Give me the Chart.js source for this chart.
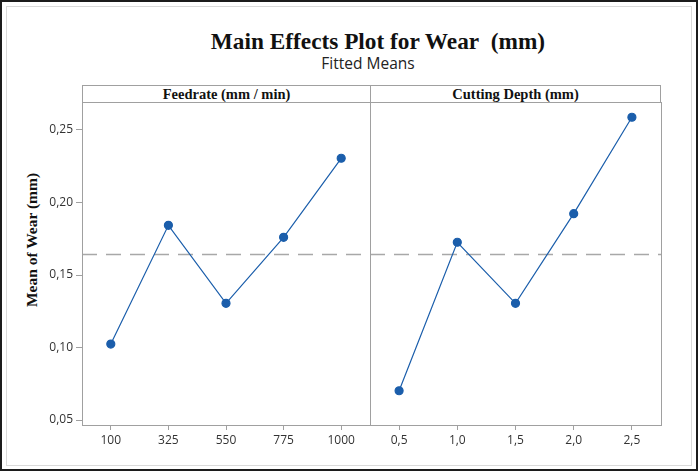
<!DOCTYPE html>
<html>
<head>
<meta charset="utf-8">
<script src="https://cdn.jsdelivr.net/npm/chart.js@4"></script>
<style>
    body { margin: 0; width: 700px; height: 475px; background: #fff; position: relative; overflow: hidden; }
    .abs { position: absolute; box-sizing: border-box; }
    #frame { left: 0; top: 0; width: 698px; height: 471px; border: 2px solid #1c1c1c; }
    #inner { left: 6px; top: 6px; width: 686px; height: 460px; border: 1px solid #dadada; }
    #title { left: 78px; width: 600px; top: 28px; line-height: 24px; text-align: center;
             font: bold 23.3px "Liberation Serif", serif; color: #111; }
    #subtitle { left: 268px; width: 200px; top: 52px; line-height: 18px; text-align: center;
                font: 15.5px "Open Sans", sans-serif; color: #222; }
    .strip { top: 85px; height: 18px; border: 1px solid #a0a0a0; text-align: center;
             font: bold 14.5px "Liberation Serif", serif; line-height: 16px; color: #111; }
    #yTitle { left: 32px; top: 240px; transform: translate(-50%, -50%) rotate(-90deg); white-space: nowrap;
              font: bold 15.5px "Liberation Serif", serif; color: #111; }
    canvas { position: absolute; }
</style>
</head>
<body>
<div id="frame" class="abs"></div>
<div id="inner" class="abs"></div>
<div id="title" class="abs">Main Effects Plot for Wear&nbsp; (mm)</div>
<div id="subtitle" class="abs">Fitted Means</div>
<div class="abs strip" style="left:82px; width:289px;">Feedrate (mm / min)</div>
<div class="abs strip" style="left:370px; width:291px;">Cutting Depth (mm)</div>
<div id="yTitle" class="abs">Mean of Wear (mm)</div>

<div style="position:absolute; left:0; top:100px; width:372px; height:375px;"><canvas id="feedChart"></canvas></div>
<div style="position:absolute; left:368px; top:100px; width:295px; height:375px;"><canvas id="depthChart"></canvas></div>

<script>
// ================= DATA =================
const feedrateLabels = ["100", "325", "550", "775", "1000"];
const feedrateMeans = [0.1024, 0.1843, 0.1305, 0.1760, 0.2305];

const depthLabels = ["0,5", "1,0", "1,5", "2,0", "2,5"];
const depthMeans = [0.0702, 0.1726, 0.1305, 0.1923, 0.2588];

const yTicks = [0.05, 0.10, 0.15, 0.20, 0.25];
const grandMean = 0.1647;
const yMin = 0.0466;
const yMax = 0.2693;

// ================= STYLE =================
const BLUE = "#1b5eab";
const GRAY = "#a0a0a0";
const TICK_FONT = { family: "'Open Sans', sans-serif", size: 12 };

// dashed grand-mean line + box round the plot area
const panelPlugin = {
    id: "panel",
    beforeDatasetsDraw(chart) {
        const { ctx, chartArea, scales } = chart;
        const y = Math.round(scales.y.getPixelForValue(grandMean)) + 0.5;
        ctx.save();
        ctx.strokeStyle = "#a8a8a8";
        ctx.lineWidth = 1.5;
        ctx.setLineDash([15, 9]);
        ctx.beginPath();
        ctx.moveTo(chartArea.left, y);
        ctx.lineTo(chartArea.right, y);
        ctx.stroke();
        ctx.restore();
    },
    afterDraw(chart) {
        const { ctx, chartArea } = chart;
        ctx.save();
        ctx.strokeStyle = GRAY;
        ctx.lineWidth = 1;
        ctx.strokeRect(Math.round(chartArea.left) + 0.5, Math.round(chartArea.top) + 0.5,
            Math.round(chartArea.right - chartArea.left), Math.round(chartArea.bottom - chartArea.top));
        ctx.restore();
    }
};

// fixed axis sizes so both panels line up exactly
function fixSize(s, w, h) {
    if (w !== null) s.width = w;
    if (h !== null) s.height = h;
    s.paddingTop = 0;
    s.paddingBottom = 0;
    s.paddingLeft = 0;
    s.paddingRight = 0;
}

function makeChart(canvasId, labels, values, showY) {
    const ctx = document.getElementById(canvasId).getContext("2d");
    return new Chart(ctx, {
        type: "line",
        data: {
            labels: labels,
            datasets: [{
                data: values,
                borderColor: BLUE,
                backgroundColor: BLUE,
                borderWidth: 1.2,
                pointRadius: 4,
                pointHoverRadius: 4,
                tension: 0
            }]
        },
        options: {
            responsive: true,
            maintainAspectRatio: false,
            animation: false,
            layout: { autoPadding: false, padding: { left: showY ? 0 : 2, right: 2, top: 2, bottom: 0 } },
            plugins: { legend: { display: false }, tooltip: { enabled: false } },
            scales: {
                x: {
                    type: "category",
                    offset: true,
                    afterFit: s => fixSize(s, null, 50),
                    grid: { drawOnChartArea: false, offset: false, tickLength: 5, color: GRAY },
                    border: { display: false },
                    ticks: { color: "#333", font: TICK_FONT, padding: 3, maxRotation: 0 }
                },
                y: {
                    display: showY,
                    min: yMin,
                    max: yMax,
                    afterBuildTicks: s => { s.ticks = yTicks.map(v => ({ value: v })); },
                    afterFit: s => fixSize(s, showY ? 82 : 0, null),
                    grid: { drawOnChartArea: false, tickLength: 6, color: GRAY },
                    border: { display: false },
                    ticks: {
                        color: "#333",
                        font: TICK_FONT,
                        padding: 3,
                        callback: v => v.toFixed(2).replace(".", ",")
                    }
                }
            }
        },
        plugins: [panelPlugin]
    });
}

makeChart("feedChart", feedrateLabels, feedrateMeans, true);
makeChart("depthChart", depthLabels, depthMeans, false);
</script>
</body>
</html>
